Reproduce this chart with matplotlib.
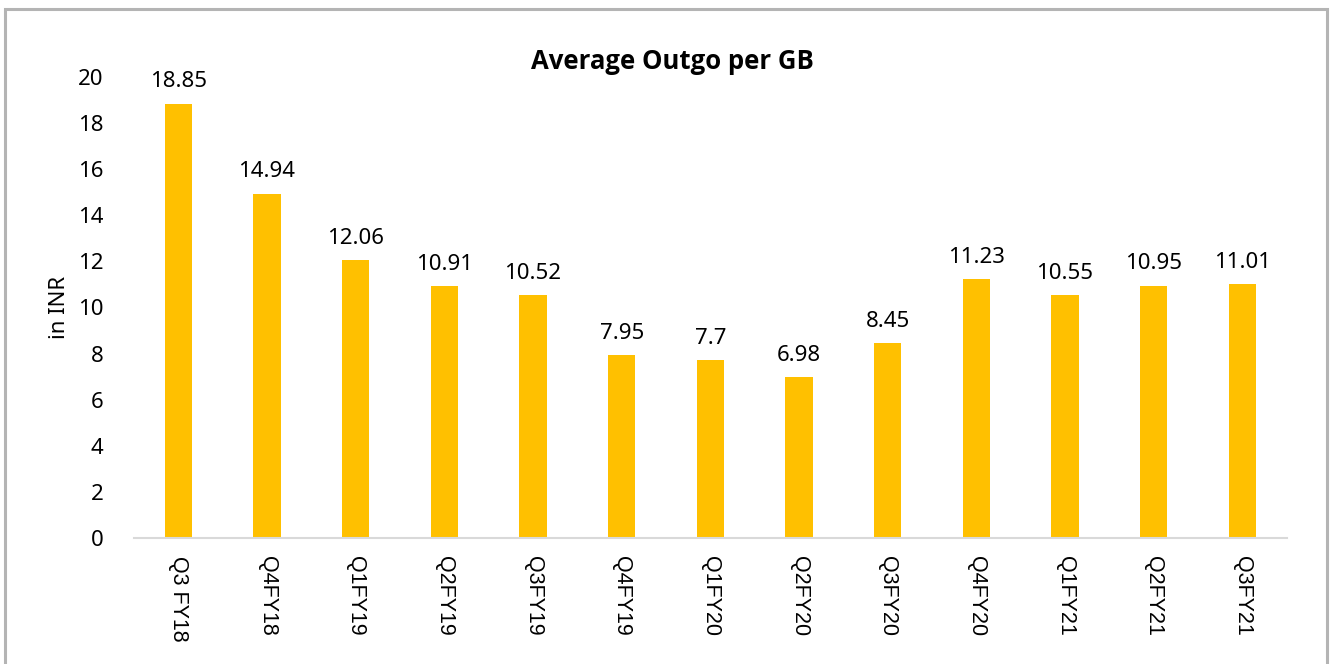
import matplotlib
matplotlib.use("Agg")
from matplotlib import pyplot as plt
from matplotlib.patches import Rectangle

# chart data
quarters = ['Q3 FY18', 'Q4FY18', 'Q1FY19', 'Q2FY19', 'Q3FY19', 'Q4FY19', 'Q1FY20',
            'Q2FY20', 'Q3FY20', 'Q4FY20', 'Q1FY21', 'Q2FY21', 'Q3FY21']
outgo = [18.85, 14.94, 12.06, 10.91, 10.52, 7.95, 7.7, 6.98, 8.45, 11.23, 10.55, 10.95, 11.01]
outgo_labels = ['18.85', '14.94', '12.06', '10.91', '10.52', '7.95', '7.7',
                '6.98', '8.45', '11.23', '10.55', '10.95', '11.01']
y_ticks = [0, 2, 4, 6, 8, 10, 12, 14, 16, 18, 20]

num_font = 'Noto Sans'
bar_color = '#FFC000'

fig = plt.figure(figsize=(13.31, 6.64), dpi=100)
ax = fig.add_axes([0.1007, 0.19, 0.866, 0.694])

x = list(range(len(quarters)))
ax.bar(x, outgo, width=0.31, color=bar_color, zorder=2)
ax.set_xlim(-0.5, len(quarters) - 0.5)
ax.set_ylim(0, 20)

# value labels above bars
for xi, v, lab in zip(x, outgo, outgo_labels):
    ax.annotate(lab, (xi, v), xytext=(0, 8), textcoords='offset points',
                ha='center', va='bottom', fontsize=16, family=num_font, color='#000000')

ax.set_yticks(y_ticks)
ax.set_yticklabels([str(t) for t in y_ticks], fontsize=16, family=num_font)
ax.set_xticks(x)
ax.set_xticklabels(quarters, rotation=-90, fontsize=15.5, family='Liberation Sans')
ax.tick_params(axis='both', length=0)
ax.tick_params(axis='x', pad=13)
ax.tick_params(axis='y', pad=22)

for side in ['top', 'right', 'left']:
    ax.spines[side].set_visible(False)
ax.spines['bottom'].set_color('#D9D9D9')
ax.spines['bottom'].set_linewidth(1.5)

ax.set_ylabel('in INR', fontsize=16, family=num_font, labelpad=6)
fig.text(0.505, 0.907, 'Average Outgo per GB', ha='center', va='center',
         fontsize=18.5, fontweight='bold', family=['Open Sans', 'Lato', 'DejaVu Sans'])

# outer border like the chart area frame
fig.patches.append(Rectangle((0.004, -0.01), 0.993, 0.996, transform=fig.transFigure,
                             fill=False, edgecolor='#B4B4B4', linewidth=2.2))

plt.savefig('out.png', dpi=100)
